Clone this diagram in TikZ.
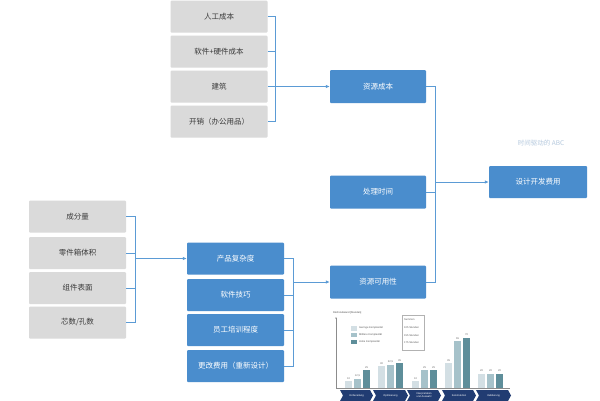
\documentclass[tikz,border=0pt]{standalone}
\usepackage{fontspec}
\setmainfont{Noto Sans CJK SC}
\newfontfamily\chartfont{Liberation Sans}
\usetikzlibrary{arrows.meta}
\definecolor{greybox}{HTML}{DADADA}
\definecolor{bluebox}{HTML}{4A8DCD}
\definecolor{conncol}{HTML}{5B9BD5}
\definecolor{txtgrey}{HTML}{3A3A3A}
\definecolor{barA}{HTML}{D3DFE4}
\definecolor{barB}{HTML}{A6C2CA}
\definecolor{barC}{HTML}{5E8E9A}
\definecolor{navy}{HTML}{213C72}
\definecolor{titlecol}{HTML}{B5C9DE}
\tikzset{
  greyrect/.style={fill=greybox, rounded corners=1pt, minimum width=97pt, minimum height=32pt, inner sep=0pt, text=txtgrey, font=\fontsize{7.5}{9}\selectfont},
  bluerect/.style={fill=bluebox, rounded corners=1pt, minimum width=97pt, minimum height=32pt, inner sep=0pt, text=white, font=\fontsize{7.5}{9}\selectfont},
  conn/.style={draw=conncol, line width=0.8pt},
  arr/.style={conn, -{Latex[length=4pt,width=3.5pt]}},
  tiny/.style={font=\chartfont\fontsize{2.6}{3}\selectfont, inner sep=0pt},
}
\begin{document}
\begin{tikzpicture}[x=1pt,y=-1pt]
\useasboundingbox (0,0) rectangle (600,400);
\fill[white] (0,0) rectangle (600,400);

% top-left grey boxes
\node[greyrect] (g1) at (219,16.5) {人工成本};
\node[greyrect] (g2) at (219,51.5) {软件+硬件成本};
\node[greyrect] (g3) at (219,86.5) {建筑};
\node[greyrect] (g4) at (219,121.5) {开销（办公用品）};

% left grey boxes
\node[greyrect] (h1) at (77.5,216.5) {成分量};
\node[greyrect] (h2) at (77.5,253) {零件箱体积};
\node[greyrect] (h3) at (77.5,288) {组件表面};
\node[greyrect] (h4) at (77.5,322.5) {芯数/孔数};

% middle blue boxes
\node[bluerect] (m1) at (235.5,258.5) {产品复杂度};
\node[bluerect] (m2) at (235.5,295) {软件技巧};
\node[bluerect] (m3) at (235.5,330) {员工培训程度};
\node[bluerect] (m4) at (235.5,366) {更改费用（重新设计）};

% right-middle blue boxes
\node[bluerect, minimum width=96pt, minimum height=33pt] (r1) at (378,86.5) {资源成本};
\node[bluerect, minimum width=96pt, minimum height=33pt] (r2) at (378,192) {处理时间};
\node[bluerect, minimum width=96pt, minimum height=33pt] (r3) at (378,282) {资源可用性};

% final box
\node[bluerect, minimum width=98pt] (f) at (538,182) {设计开发费用};
\node[text=titlecol, font=\fontsize{6.5}{8}\selectfont, inner sep=0pt] (ttl) at (541,143) {时间驱动的 ABC};

% bracket coordinates
\coordinate (b1) at (275,0);
\coordinate (b2) at (135,0);
\coordinate (b3) at (293,0);
\coordinate (b4) at (435,0);

% bracket 1
\draw[conn] (g1.east) -- (g1.east -| b1) -- (g4.east -| b1) -- (g4.east);
\draw[conn] (g2.east) -- (g2.east -| b1);
\draw[conn] (g3.east) -- (g3.east -| b1);
\draw[arr] (r1.west -| b1) -- (r1.west);

% bracket 2
\draw[conn] (h1.east) -- (h1.east -| b2) -- (h4.east -| b2) -- (h4.east);
\draw[conn] (h2.east) -- (h2.east -| b2);
\draw[conn] (h3.east) -- (h3.east -| b2);
\draw[arr] (m1.west -| b2) -- (m1.west);

% bracket 3
\draw[conn] (m1.east) -- (m1.east -| b3) -- (m4.east -| b3) -- (m4.east);
\draw[conn] (m2.east) -- (m2.east -| b3);
\draw[conn] (m3.east) -- (m3.east -| b3);
\draw[arr] (r3.west -| b3) -- (r3.west);

% bracket 4
\draw[conn] (r1.east) -- (r1.east -| b4) -- (r3.east -| b4) -- (r3.east);
\draw[conn] (r2.east) -- (r2.east -| b4);
\draw[arr] (f.west -| b4) -- (f.west);

% ---------- chart ----------
\node[tiny, anchor=west, text=black!70] at (333,313) {R\&D Aufwand [Stunden]};
\draw[black!45, line width=0.4pt, -{Latex[length=1.5pt,width=1.5pt]}] (336,388) -- (336,317);
\draw[black!45, line width=0.4pt] (336,388) -- (510,388);

% legend
\fill[barA] (351,326) rectangle (357,330.5);
\fill[barB] (351,332.5) rectangle (357,337);
\fill[barC] (351,339.5) rectangle (357,344);
\node[tiny, anchor=west, text=black!65] at (359,328.2) {Geringe Komplexität};
\node[tiny, anchor=west, text=black!65] at (359,334.7) {Mittlere Komplexität};
\node[tiny, anchor=west, text=black!65] at (359,341.7) {Hohe Komplexität};
\draw[black!30, line width=0.5pt] (402,315) rectangle (424,350);
\node[tiny, anchor=west, text=black!65] at (404,320) {Summen};
\node[tiny, anchor=west, text=black!65] at (404,328) {105 Stunden};
\node[tiny, anchor=west, text=black!65] at (404,335.5) {155 Stunden};
\node[tiny, anchor=west, text=black!65] at (404,343) {175 Stunden};

% bars: baseline 388, 0.72 px per hour
\foreach \gx/\a/\b/\c/\la/\lb/\lc in {
  345/10/12.5/25/10/{12,5}/25,
  378/30/32.5/35/30/{32,5}/35,
  412/10/25/25/10/25/25,
  445/35/65/70/35/65/70,
  478/20/20/20/20/20/20}{
  \fill[barA] (\gx,388) rectangle ++(7,-0.72*\a);
  \fill[barB] (\gx+9,388) rectangle ++(7,-0.72*\b);
  \fill[barC] (\gx+18,388) rectangle ++(7,-0.72*\c);
  \node[tiny, text=black!60, anchor=south] at (\gx+3.5,386.5-0.72*\a) {\la};
  \node[tiny, text=black!60, anchor=south] at (\gx+12.5,386.5-0.72*\b) {\lb};
  \node[tiny, text=black!60, anchor=south] at (\gx+21.5,386.5-0.72*\c) {\lc};
}

% chevrons
\foreach \xa/\xb/\lab in {
  340/370/Vorbereitung,
  373/405/Optimierung,
  407/438/{Interpretation\\und Auswahl},
  442/473/Konstruktion,
  476/508/Validierung}{
  \fill[navy] (\xa,390) -- (\xb,390) -- (\xb+3,395.5) -- (\xb,401) -- (\xa,401) -- (\xa+3,395.5) -- cycle;
  \node[tiny, text=white, align=center] at ({(\xa+\xb)/2+1.5},395.5) {\lab};
}
\end{tikzpicture}
\end{document}
